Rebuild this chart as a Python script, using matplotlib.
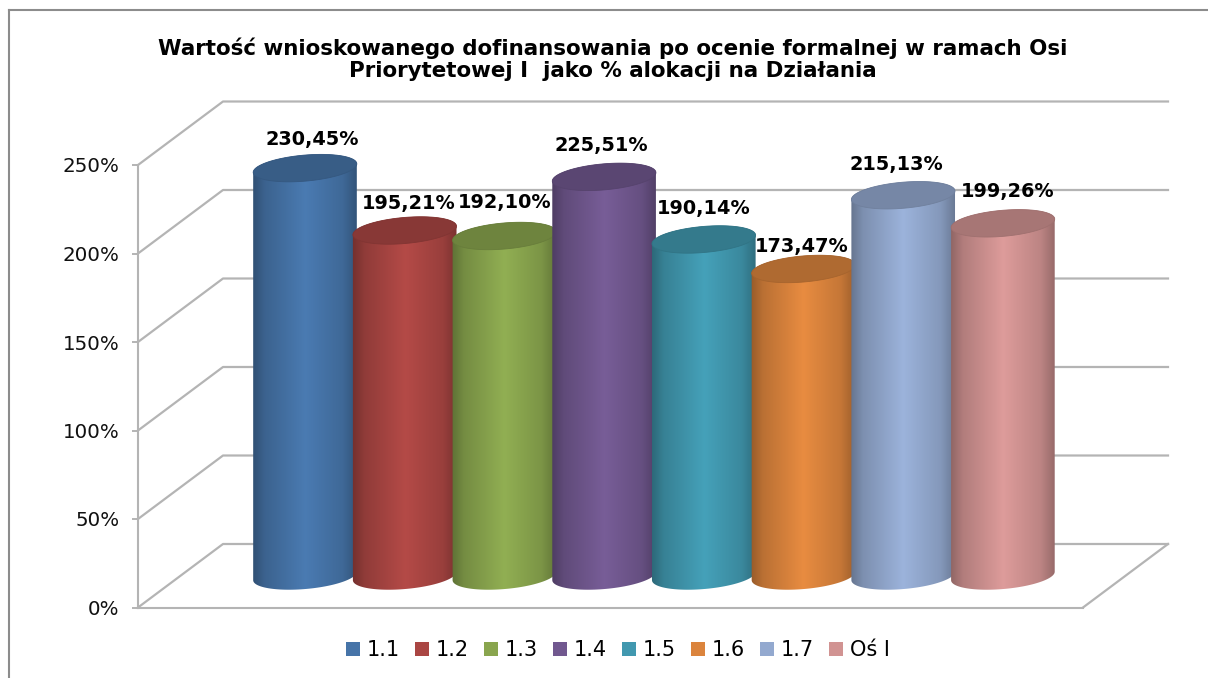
import matplotlib

matplotlib.use('agg')
import numpy as np
import matplotlib.pyplot as plt
from matplotlib.lines import Line2D
from matplotlib.patches import Patch, Polygon

categories = ['1.1', '1.2', '1.3', '1.4', '1.5', '1.6', '1.7', 'Oś I']
values = [230.45, 195.21, 192.10, 225.51, 190.14, 173.47, 215.13, 199.26]
value_labels = ['230,45%', '195,21%', '192,10%', '225,51%', '190,14%', '173,47%', '215,13%', '199,26%']
y_ticks = [0, 50, 100, 150, 200, 250]
colors = ['#4674a8', '#aa4643', '#89a54e', '#71588f', '#4198af', '#db843d', '#93a9cf', '#d19392']
title = 'Wartość wnioskowanego dofinansowania po ocenie formalnej w ramach Osi\nPriorytetowej I  jako % alokacji na Działania'

# label nudges in px, from the cylinder top (the original has them placed by hand)
label_nudge = [(7, 29), (4, 27), (0, 33), (-3, 31), (0, 31), (-2, 22), (-7, 31), (5, 32)]

W, H = 1208, 678
LEFT, RIGHT, BOTTOM, TOP = 138, 1083, 607.5, 165
DEPTH_X, DEPTH_Y = 85, 63.5
FIRST_CENTER, STEP = 305, 99.7
BASE_Y = 576
RX, RY, TILT = 52, 13, np.radians(5)

GRID = '#b4b4b4'
FRAME = '#8c8c8c'

fig = plt.figure(figsize=(W / 100, H / 100), dpi=100, facecolor='white')
ax = fig.add_axes([LEFT / W, (H - BOTTOM) / H, (RIGHT - LEFT) / W, (BOTTOM - TOP) / H])

ax.set_xlim((LEFT - FIRST_CENTER) / STEP, (RIGHT - FIRST_CENTER) / STEP)
ax.set_ylim(0, 250)
ax.patch.set_visible(False)

px_x = (RIGHT - LEFT) / (ax.get_xlim()[1] - ax.get_xlim()[0])
px_y = (BOTTOM - TOP) / 250
depth_x = DEPTH_X / px_x
depth_y = DEPTH_Y / px_y
base = (BOTTOM - BASE_Y) / px_y
x0, x1 = ax.get_xlim()

# walls and floor
for t in y_ticks:
	ax.plot([x0, x0 + depth_x, x1 + depth_x], [t, t + depth_y, t + depth_y], color=GRID, lw=1.6, clip_on=False, zorder=1)
ax.plot([x1, x1 + depth_x], [0, depth_y], color=GRID, lw=1.6, clip_on=False, zorder=1)

# shading across a cylinder, 1 is the plain series colour
stops = [0, 0.12, 0.5, 0.85, 1]
shade = [0.68, 0.85, 1.06, 0.9, 0.7]
u = np.linspace(0, 1, 200)
ramp = np.interp(u, stops, shade)

t_side = np.arctan(-(RY / RX) * np.tan(TILT))


def ellipse(cx, cy, t):
	ex = RX * np.cos(t) * np.cos(TILT) - RY * np.sin(t) * np.sin(TILT)
	ey = RX * np.cos(t) * np.sin(TILT) + RY * np.sin(t) * np.cos(TILT)
	return np.column_stack([cx + ex / px_x, cy + ey / px_y])


for i, (value, color) in enumerate(zip(values, colors)):
	top = base + value

	# lower half of the bottom ellipse, then upper half of the top one
	low = ellipse(i, base, np.linspace(t_side + np.pi, t_side + 2 * np.pi, 60))
	up = ellipse(i, top, np.linspace(t_side, t_side + np.pi, 60))
	body = Polygon(np.vstack([low, up]), closed=True, transform=ax.transData, facecolor='none', edgecolor='none', clip_on=False)
	ax.add_patch(body)

	rgb = np.array(matplotlib.colors.to_rgb(color))
	img = np.clip(ramp[None, :, None] * rgb[None, None, :], 0, 1)
	half = RX * 1.02 / px_x
	im = ax.imshow(img, extent=[i - half, i + half, base - 20, top + 20], aspect='auto', origin='lower', interpolation='bilinear', zorder=2 + i)
	im.set_clip_box(fig.bbox)
	im.set_clip_path(body)

	cap = ellipse(i, top, np.linspace(0, 2 * np.pi, 120))
	ax.add_patch(Polygon(cap, closed=True, facecolor=rgb * 0.8, edgecolor=rgb * 0.76, lw=0.6, clip_on=False, zorder=2 + i))

	ax.annotate(value_labels[i], (i, top), xytext=(label_nudge[i][0] * 0.72, label_nudge[i][1] * 0.72), textcoords='offset points',
		ha='center', va='center', fontsize=13.9, weight='bold', color='black', zorder=20, annotation_clip=False)

ax.set_xlim(x0, x1)
ax.set_ylim(0, 250)

ax.set_xticks([])
ax.set_yticks(y_ticks)
ax.set_yticklabels([f'{t}%' for t in y_ticks], fontsize=14.3, color='#111111')
ax.tick_params(axis='y', length=4.5, width=1.4, color=GRID, pad=9)

ax.spines['right'].set_visible(False)
ax.spines['top'].set_visible(False)
ax.spines['left'].set_color(GRID)
ax.spines['left'].set_linewidth(1.5)
ax.spines['bottom'].set_color(GRID)
ax.spines['bottom'].set_linewidth(1.5)

fig.text(613 / W, 1 - 59 / H, title, ha='center', va='center', fontsize=15.4, weight='bold', color='black', linespacing=1.1)

handles = [Patch(facecolor=c, edgecolor='none') for c in colors]
fig.legend(handles, categories, loc='center', bbox_to_anchor=(618 / W, 1 - 650 / H), ncol=8, frameon=False, fontsize=15,
	handlelength=0.65, handleheight=0.65, handletextpad=0.35, columnspacing=0.72, borderpad=0)

# outer frame, only left and top of it are in the picture
fig.add_artist(Line2D([9 / W, 9 / W], [0, 1 - 9.5 / H], color=FRAME, lw=1.5))
fig.add_artist(Line2D([9 / W, 1], [1 - 9.5 / H, 1 - 9.5 / H], color=FRAME, lw=1.5))

fig.savefig('out.png', dpi=100)
